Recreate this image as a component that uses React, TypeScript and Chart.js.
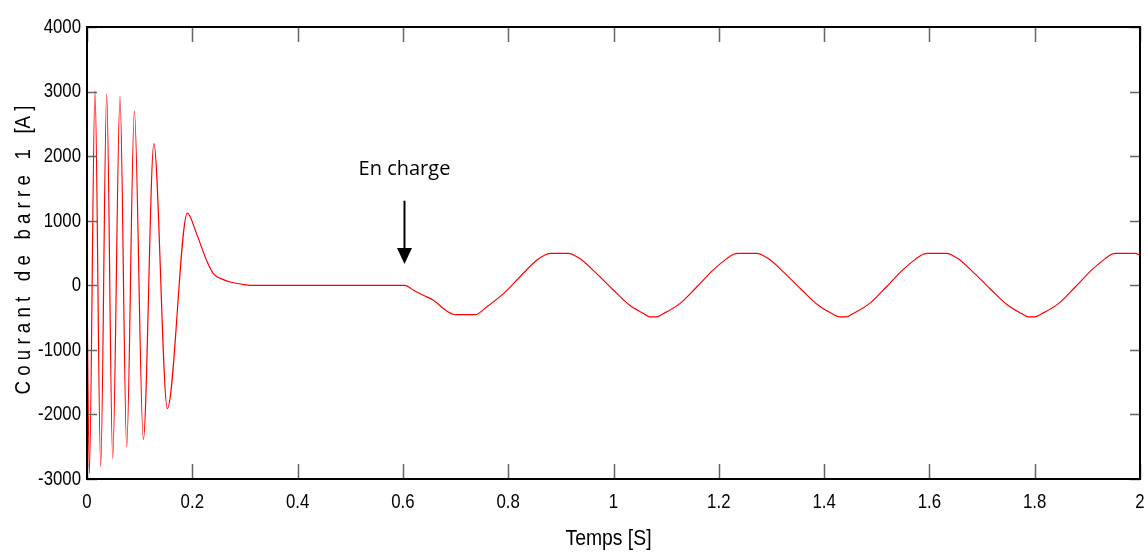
import React, { useEffect, useRef } from "react";
import { Chart, registerables } from "chart.js";

Chart.register(...registerables);

// Time [s]
const times = [
  0, 0.0044, 0.0152, 0.026, 0.0374, 0.0488, 0.0627, 0.0754, 0.09, 0.107,
  0.127, 0.1526, 0.1906, 0.208, 0.227, 0.24, 0.259, 0.272, 0.296, 0.31,
  0.6, 0.604, 0.62, 0.639, 0.658, 0.683, 0.699, 0.737, 0.759, 0.791,
  0.822, 0.854, 0.868, 0.879, 0.914,
  0.936, 0.968, 1.0, 1.031, 1.057, 1.069, 1.081, 1.095, 1.126, 1.158,
  1.19, 1.215, 1.228, 1.237, 1.272,
  1.294, 1.326, 1.358, 1.389, 1.415, 1.429, 1.442, 1.455, 1.486, 1.518,
  1.55, 1.575, 1.588, 1.598, 1.632,
  1.654, 1.686, 1.718, 1.749, 1.775, 1.788, 1.8, 1.814, 1.845, 1.877,
  1.909, 1.934, 1.946, 1.954, 1.991, 2.0,
];

// Courant de barre 1 [A]
const current = [
  0, -2915, 3018, -2812, 2967, -2683, 2925, -2503, 2700, -2389,
  2193, -1909, 1119, 800, 387, 181, 88, 51, 15, 0,
  0, 0, -77, -155, -232, -397, -455, -455, -335, -129,
  129, 387, 460, 495, 495,
  413, 181, -77, -310, -438, -490, -490, -438, -284, -26,
  243, 413, 480, 495, 495,
  413, 181, -77, -310, -438, -490, -490, -438, -284, -26,
  243, 413, 480, 495, 495,
  413, 181, -77, -310, -438, -490, -490, -438, -284, -26,
  243, 413, 480, 495, 495, 464,
];

const xTickValues = [0, 0.2, 0.4, 0.6, 0.8, 1, 1.2, 1.4, 1.6, 1.8, 2];
const xTickLabels = ["0", "0.2", "0.4", "0.6", "0.8", "1", "1.2", "1.4", "1.6", "1.8", "2"];
const yTickValues = [-3000, -2000, -1000, 0, 1000, 2000, 3000, 4000];
const yTickLabels = ["-3000", "-2000", "-1000", "0", "1000", "2000", "3000", "4000"];

const xTitle = "Temps [S]";
const yTitle = "C o u r a n t   d e   b a r r e   1   [A ]";
const annotationText = "En charge";
const annotationX = 0.603;
const annotationTextY = 1800;
const annotationArrowTop = 1310;
const annotationArrowTip = 330;

const tickFont = "21px 'Liberation Sans', Arial, sans-serif";
const titleFont = "22px 'Liberation Sans', Arial, sans-serif";

function narrowText(ctx: any, text: string, x: number, y: number, align: string, k: number) {
  ctx.save();
  ctx.translate(x, y);
  ctx.scale(k, 1);
  ctx.textAlign = align;
  ctx.fillText(text, 0, 0);
  ctx.restore();
}

const framePlugin = {
  id: "framePlugin",
  afterDraw(chart: any) {
    const { ctx, chartArea, scales } = chart;
    const { left, right, top, bottom } = chartArea;
    const xs = scales.x;
    const ys = scales.y;
    ctx.save();
    ctx.strokeStyle = "#666";
    ctx.lineWidth = 1.5;
    ctx.beginPath();
    xTickValues.forEach((v) => {
      const px = Math.round(xs.getPixelForValue(v)) + 0.5;
      ctx.moveTo(px, bottom);
      ctx.lineTo(px, bottom - 15);
      ctx.moveTo(px, top);
      ctx.lineTo(px, top + 15);
    });
    yTickValues.forEach((v) => {
      const py = Math.round(ys.getPixelForValue(v)) + 0.5;
      ctx.moveTo(left, py);
      ctx.lineTo(left + 10, py);
      ctx.moveTo(right, py);
      ctx.lineTo(right - 10, py);
    });
    ctx.stroke();

    ctx.strokeStyle = "#000";
    ctx.lineWidth = 2;
    ctx.strokeRect(left, top, right - left, bottom - top);

    // tick labels and titles
    ctx.fillStyle = "#000";
    ctx.font = tickFont;
    ctx.textBaseline = "middle";
    xTickValues.forEach((v, i) => {
      narrowText(ctx, xTickLabels[i], xs.getPixelForValue(v), bottom + 23, "center", 0.8);
    });
    yTickValues.forEach((v, i) => {
      narrowText(ctx, yTickLabels[i], left - 6, ys.getPixelForValue(v), "right", 0.8);
    });
    ctx.font = titleFont;
    narrowText(ctx, xTitle, (left + right) / 2 - 5, bottom + 60, "center", 0.88);
    ctx.save();
    ctx.translate(24, (top + bottom) / 2 - 3);
    ctx.rotate(-Math.PI / 2);
    ctx.scale(0.85, 1);
    ctx.textAlign = "center";
    ctx.fillText(yTitle, 0, 0);
    ctx.restore();

    // annotation
    const ax = xs.getPixelForValue(annotationX);
    ctx.font = "20px 'Open Sans', 'Noto Sans', sans-serif";
    ctx.textAlign = "center";
    ctx.textBaseline = "middle";
    ctx.fillText(annotationText, ax, ys.getPixelForValue(annotationTextY));
    const yTop = ys.getPixelForValue(annotationArrowTop);
    const yTip = ys.getPixelForValue(annotationArrowTip);
    ctx.strokeStyle = "#000";
    ctx.lineWidth = 2;
    ctx.beginPath();
    ctx.moveTo(ax, yTop);
    ctx.lineTo(ax, yTip - 12);
    ctx.stroke();
    ctx.beginPath();
    ctx.moveTo(ax - 7.5, yTip - 16);
    ctx.lineTo(ax + 7.5, yTip - 16);
    ctx.lineTo(ax, yTip);
    ctx.closePath();
    ctx.fill();
    ctx.restore();
  },
};

export default function App() {
  const canvasRef = useRef<HTMLCanvasElement | null>(null);

  useEffect(() => {
    const canvas = canvasRef.current;
    if (!canvas) return;
    const data = times.map((t, i) => ({ x: t, y: current[i] }));
    const chart = new Chart(canvas, {
      type: "line",
      data: {
        datasets: [
          {
            data,
            borderColor: "#ff0000",
            borderWidth: 1.2,
            pointRadius: 0,
            fill: false,
            cubicInterpolationMode: "monotone",
          },
        ],
      },
      options: {
        animation: false,
        responsive: true,
        maintainAspectRatio: false,
        layout: { padding: { top: 27, right: 8, left: 0, bottom: 0 } },
        plugins: { legend: { display: false }, tooltip: { enabled: false } },
        scales: {
          x: {
            type: "linear",
            min: 0,
            max: 2,
            afterFit: (s: any) => {
              s.height = 76;
            },
            grid: { display: false, drawTicks: false },
            border: { display: false },
            ticks: { display: false, stepSize: 0.2 },
          },
          y: {
            type: "linear",
            min: -3000,
            max: 4000,
            afterFit: (s: any) => {
              s.width = 87;
            },
            grid: { display: false, drawTicks: false },
            border: { display: false },
            ticks: { display: false, stepSize: 1000 },
          },
        },
      },
      plugins: [framePlugin],
    });
    return () => chart.destroy();
  }, []);

  return (
    <div style={{ position: "absolute", left: 0, top: 0, width: 1148, height: 555, background: "#fff" }}>
      <canvas ref={canvasRef} />
    </div>
  );
}
